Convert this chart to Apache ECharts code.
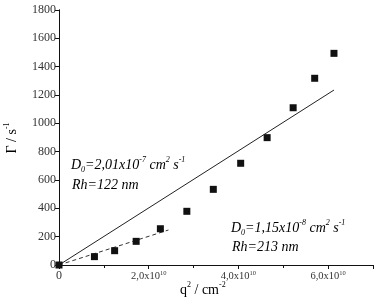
<!DOCTYPE html>
<html>
<head>
<meta charset="utf-8">
<script src="https://cdn.jsdelivr.net/npm/echarts@6/dist/echarts.min.js"></script>
<style>
  html, body { margin: 0; padding: 0; background: #fff; }
  #chart { width: 381px; height: 305px; }
</style>
</head>
<body>
<div id="chart"></div>
<script>
// measured points: q^2 (cm^-2) vs decay rate Gamma (s^-1)
const qSquared = [0, 0.79e10, 1.24e10, 1.72e10, 2.26e10, 2.85e10, 3.44e10, 4.05e10, 4.64e10, 5.22e10, 5.70e10, 6.13e10];
const gamma = [0, 59, 101, 167, 256, 379, 534, 718, 899, 1110, 1318, 1494];

// linear fits through origin
const fitAllX = [0, 6.13e10];
const fitAllY = [0, 1235];
const fitLowX = [0, 2.44e10];
const fitLowY = [0, 247];

const serif = '"Liberation Serif", "DejaVu Serif", serif';

const chart = echarts.init(document.getElementById('chart'));

// rich styles for sub/superscripts
const richText = {
  n: { fontFamily: serif, fontStyle: 'italic', fontSize: 14, lineHeight: 18, color: '#222' },
  sup: { fontFamily: serif, fontStyle: 'italic', fontSize: 8, lineHeight: 8, verticalAlign: 'top', color: '#222' },
  sub: { fontFamily: serif, fontStyle: 'italic', fontSize: 8, lineHeight: 8, verticalAlign: 'bottom', color: '#222' }
};
const richPlain = {
  n: { fontFamily: serif, fontSize: 14, lineHeight: 18, color: '#222' },
  sup: { fontFamily: serif, fontSize: 8, lineHeight: 8, verticalAlign: 'top', color: '#222' }
};

chart.setOption({
  animation: false,
  backgroundColor: '#fff',
  grid: { left: 59, right: 8, top: 10, bottom: 40 },
  xAxis: [{
    type: 'value',
    min: 0,
    max: 7e10,
    interval: 2e10,
    axisLine: { show: true, lineStyle: { color: '#111', width: 1 } },
    axisTick: { show: true, inside: false, length: 4, lineStyle: { color: '#111' } },
    minorTick: { show: true, splitNumber: 2, length: 3, lineStyle: { color: '#111' } },
    splitLine: { show: false },
    axisLabel: {
      margin: 5,
      showMaxLabel: false,
      formatter: function (v) {
        if (v === 0) return '{z|0}';
        if (v > 6.5e10) return '';
        return '{a|' + (v / 1e10).toFixed(1).replace('.', ',') + 'x10}{s|10}';
      },
      rich: {
        z: { fontFamily: serif, fontSize: 12, lineHeight: 12, color: '#333' },
        a: { fontFamily: serif, fontSize: 10.5, lineHeight: 12, color: '#333' },
        s: { fontFamily: serif, fontSize: 6.5, lineHeight: 6, verticalAlign: 'top', color: '#333' }
      }
    }
  }, {
    type: 'value',
    position: 'top',
    min: 0,
    max: 7e10,
    axisLine: { show: true, lineStyle: { color: '#111', width: 1 } },
    axisTick: { show: false },
    axisLabel: { show: false },
    splitLine: { show: false }
  }],
  yAxis: [{
    type: 'value',
    min: 0,
    max: 1800,
    interval: 200,
    axisLine: { show: true, lineStyle: { color: '#111', width: 1 } },
    axisTick: { show: true, inside: false, length: 4, lineStyle: { color: '#111' } },
    splitLine: { show: false },
    axisLabel: {
      margin: 3,
      fontFamily: serif,
      fontSize: 12,
      color: '#333',
      formatter: function (v) { return String(v); }
    }
  }, {
    type: 'value',
    position: 'right',
    min: 0,
    max: 1800,
    axisLine: { show: true, lineStyle: { color: '#111', width: 1 } },
    axisTick: { show: false },
    axisLabel: { show: false },
    splitLine: { show: false }
  }],
  series: [{
    type: 'line',
    data: fitAllX.map((x, i) => [x, fitAllY[i]]),
    showSymbol: false,
    lineStyle: { color: '#222', width: 1 },
    z: 1
  }, {
    type: 'line',
    data: fitLowX.map((x, i) => [x, fitLowY[i]]),
    showSymbol: false,
    lineStyle: { color: '#333', width: 1, type: [4, 3] },
    z: 1
  }, {
    type: 'scatter',
    data: qSquared.map((x, i) => [x, gamma[i]]),
    symbol: 'rect',
    symbolSize: 7,
    itemStyle: { color: '#111', opacity: 1 },
    z: 3
  }],
  graphic: [{
    type: 'text',
    left: 71,
    top: 156,
    style: {
      text: '{n|D}{sub|0}{n|=2,01x10}{sup|-7}{n| cm}{sup|2}{n| s}{sup|-1}',
      rich: richText
    }
  }, {
    type: 'text',
    left: 72,
    top: 178,
    style: { text: '{n|Rh=122 nm}', rich: richText }
  }, {
    type: 'text',
    left: 231,
    top: 219,
    style: {
      text: '{n|D}{sub|0}{n|=1,15x10}{sup|-8}{n| cm}{sup|2}{n| s}{sup|-1}',
      rich: richText
    }
  }, {
    type: 'text',
    left: 232,
    top: 240,
    style: { text: '{n|Rh=213 nm}', rich: richText }
  }, {
    type: 'text',
    left: 180,
    top: 281,
    style: { text: '{n|q}{sup|2}{n| / cm}{sup|-2}', rich: richPlain }
  }, {
    type: 'text',
    x: 12,
    y: 138,
    rotation: Math.PI / 2,
    style: {
      text: '{n|Γ / s}{sup|-1}',
      rich: richPlain,
      align: 'center',
      verticalAlign: 'middle'
    }
  }]
});
</script>
</body>
</html>
